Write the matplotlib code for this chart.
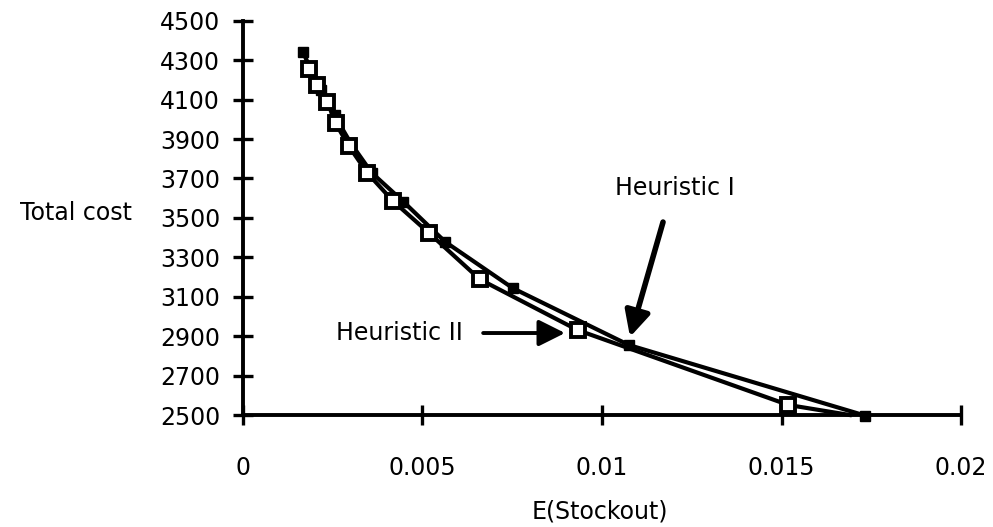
import matplotlib
matplotlib.use("Agg")
from matplotlib import pyplot as plt

# Heuristic I (small filled squares)
h1_x = [0.00167, 0.00190, 0.00218, 0.00255, 0.00300, 0.00358, 0.00447, 0.00563, 0.00752, 0.01075, 0.01733]
h1_y = [4341, 4250, 4150, 4020, 3880, 3730, 3582, 3379, 3143, 2855, 2497]

# Heuristic II (open squares)
h2_x = [0.00185, 0.00207, 0.00235, 0.00258, 0.00295, 0.00346, 0.00417, 0.00519, 0.00660, 0.00932, 0.01519, 0.01690]
h2_y = [4258, 4174, 4089, 3980, 3864, 3729, 3587, 3422, 3188, 2931, 2551, 2500]

x_ticks = [0, 0.005, 0.01, 0.015, 0.02]
x_tick_labels = ["0", "0.005", "0.01", "0.015", "0.02"]
y_ticks = list(range(2500, 4501, 200))

plt.rcParams["font.family"] = ["DejaVu Sans"]
fs = 17

fig = plt.figure(figsize=(9.93, 5.27), dpi=100)
ax = fig.add_axes([0.2447, 0.2125, 0.7231, 0.748])

ax.plot(h1_x, h1_y, color="black", lw=3, marker="s", ms=6.5,
        mfc="black", mec="black", clip_on=False, zorder=3)
ax.plot(h2_x, h2_y, color="black", lw=3, marker="s", ms=10.5,
        mfc="white", mec="black", mew=2.8, markevery=slice(0, -1),
        clip_on=False, zorder=4)

ax.set_xlim(0, 0.02)
ax.set_ylim(2500, 4500)
ax.set_xticks(x_ticks)
ax.set_xticklabels(x_tick_labels)
ax.set_yticks(y_ticks)

for side in ["top", "right"]:
    ax.spines[side].set_visible(False)
for side in ["left", "bottom"]:
    ax.spines[side].set_linewidth(2.8)

ax.tick_params(axis="y", direction="inout", length=15, width=2.4, pad=9, labelsize=fs)
ax.tick_params(axis="x", direction="inout", length=15, width=2.4, pad=22, labelsize=fs)

ax.set_xlabel("E(Stockout)", fontsize=fs)
ax.xaxis.set_label_coords(0.497, -0.245)
ax.xaxis.label.set_va("center")
ax.set_ylabel("Total cost", fontsize=fs, rotation=0, ha="right", va="center")
ax.yaxis.set_label_coords(-0.154, 0.512)

# annotations
ax.text(0.01203, 3651, "Heuristic I", fontsize=fs, ha="center", va="center")
ax.annotate("", xy=(0.01078, 2896), xytext=(0.0117, 3479),
            arrowprops=dict(arrowstyle="-|>", lw=4, color="black",
                            mutation_scale=38, shrinkA=0, shrinkB=0))
ax.text(0.0026, 2916, "Heuristic II", fontsize=fs, ha="left", va="center")
ax.annotate("", xy=(0.00897, 2916), xytext=(0.00669, 2916),
            arrowprops=dict(arrowstyle="-|>", lw=2.8, color="black",
                            mutation_scale=40, shrinkA=0, shrinkB=0))

fig.savefig("out.png", dpi=100)
